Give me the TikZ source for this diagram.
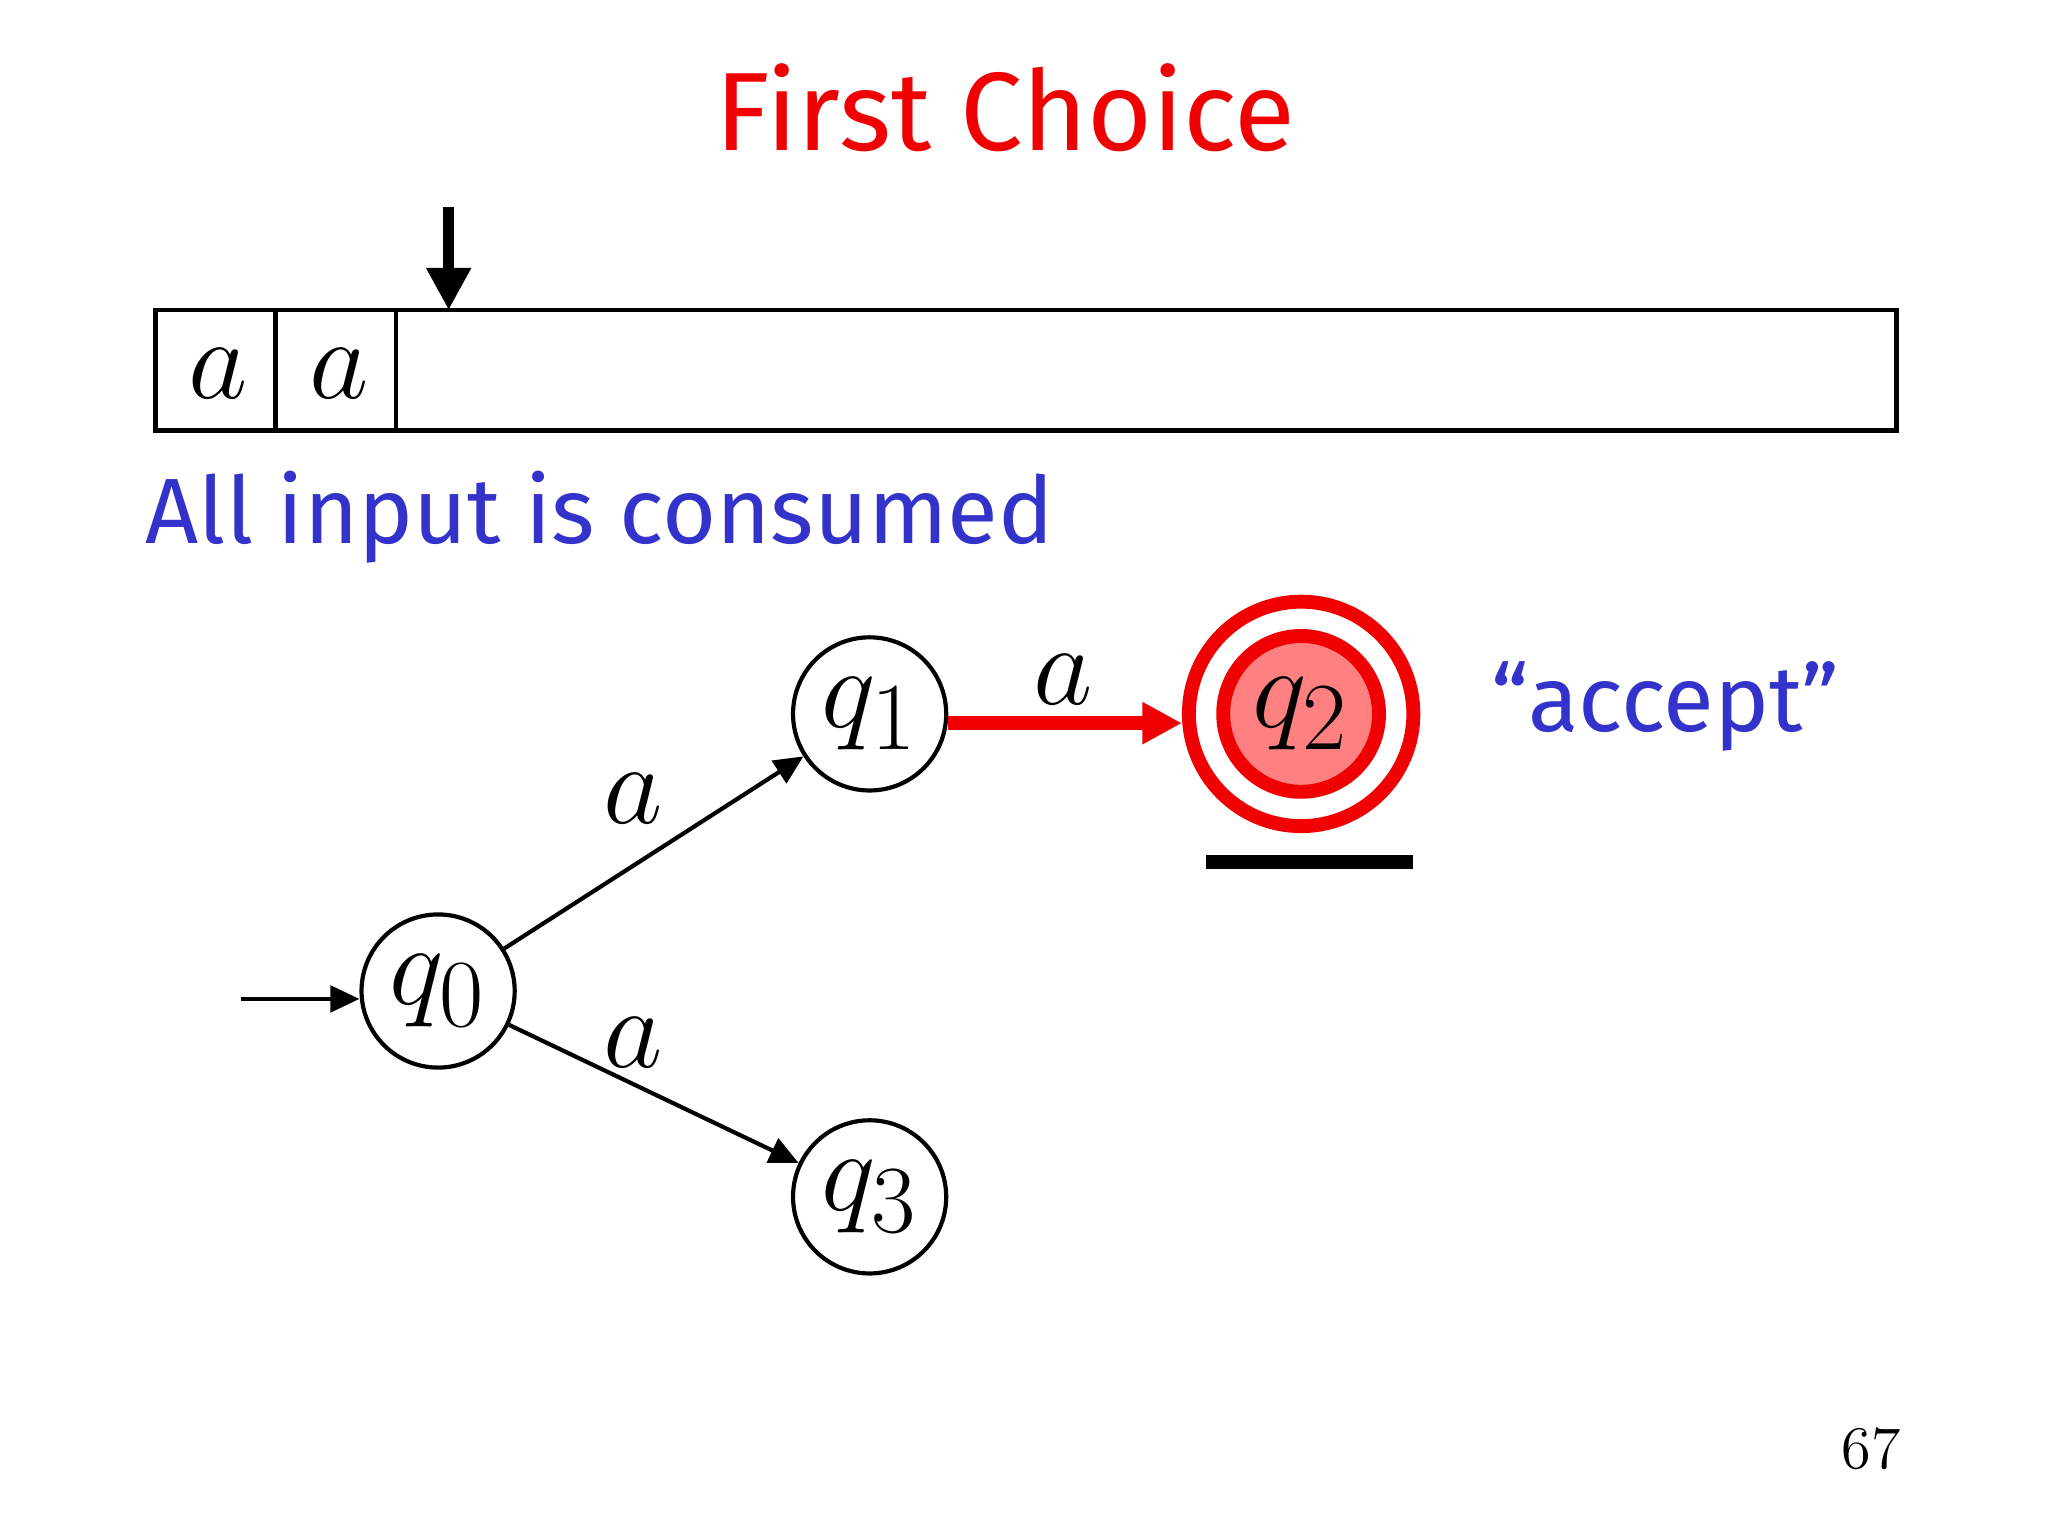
\documentclass[tikz,border=0pt]{standalone}
\usepackage{fontspec}
\setsansfont{Fira Sans}
\usetikzlibrary{arrows.meta}
\definecolor{myblue}{RGB}{51,51,204}
\definecolor{myred}{RGB}{240,0,0}
\definecolor{qfill}{RGB}{255,128,128}
\tikzset{
  st/.style={draw,circle,minimum size=1.16cm,inner sep=0pt,line width=0.9pt,font=\fontsize{32}{32}\selectfont},
  edge/.style={-{Triangle[length=0.22cm,width=0.2cm]},line width=0.9pt},
  lab/.style={font=\fontsize{32}{32}\selectfont},
}
\begin{document}
\begin{tikzpicture}[x=0.01cm,y=-0.01cm]
\useasboundingbox (0,0) rectangle (1552,1164);
\node[text=myred,font=\sffamily\fontsize{24}{24}\selectfont] (title) at (762,82) {First Choice};
% tape
\draw[line width=1pt] (118,235) rectangle (1437,326);
\draw[line width=1pt] (209,235) -- (209,326) (300,235) -- (300,326);
\node[lab] (c1) at (165,283) {$a$};
\node[lab] (c2) at (257,283) {$a$};
\coordinate (h0) at (340,157);
\coordinate (h1) at (340,235);
\draw[-{Triangle[length=0.32cm,width=0.32cm]},line width=2.5pt] (h0) -- (h1);
\node[text=myblue,font=\sffamily\fontsize{20}{20}\selectfont,anchor=west] (cons) at (98,392) {All input is consumed};
% states
\node[st] (q0) at (332,751) {$q_0$};
\node[st] (q1) at (659,541) {$q_1$};
\node[st] (q3) at (659,907) {$q_3$};
\node[circle,draw=myred,line width=3pt,minimum size=1.7cm] (q2o) at (986,541) {};
\node[st,draw=myred,fill=qfill,line width=3pt,minimum size=1.18cm] (q2) at (986,541) {$q_2$};
\coordinate (s) at (183,757);
\draw[edge] (s) -- (s -| q0.west);
\draw[edge] (q0) -- (q1);
\node[lab] (l1) at (480,605) {$a$};
\draw[edge] (q0) -- (q3);
\node[lab] (l2) at (480,790) {$a$};
\draw[-{Triangle[length=0.3cm,width=0.3cm]},line width=3pt,draw=myred,color=myred] (q1.east |- 0,548) -- (q2o.west |- 0,548);
\node[lab] (l3) at (806,515) {$a$};
\coordinate (u0) at (914,653);
\coordinate (u1) at (1071,653);
\draw[line width=3pt] (u0) -- (u1);
\node[text=myblue,font=\sffamily\fontsize{20}{20}\selectfont] (acc) at (1262,535) {“accept”};
\node[font=\rmfamily\fontsize{13}{13}\selectfont] (pg) at (1418,1098) {67};
\end{tikzpicture}
\end{document}
